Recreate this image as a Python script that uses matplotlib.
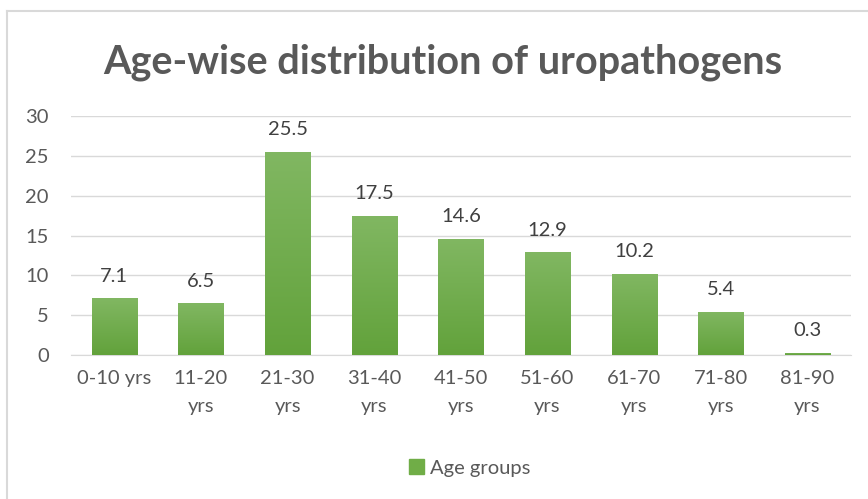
import numpy as np
import matplotlib.pyplot as plt
from matplotlib.colors import LinearSegmentedColormap
from matplotlib.patches import Patch

# данные
age_groups = ['0-10 yrs', '11-20\nyrs', '21-30\nyrs', '31-40\nyrs', '41-50\nyrs',
              '51-60\nyrs', '61-70\nyrs', '71-80\nyrs', '81-90\nyrs']
percent = [7.1, 6.5, 25.5, 17.5, 14.6, 12.9, 10.2, 5.4, 0.3]
y_ticks = [0, 5, 10, 15, 20, 25, 30]

plt.rcParams['font.family'] = ['Lato', 'DejaVu Sans']

fig = plt.figure(figsize=(8.68, 4.99), dpi=100)
ax = fig.add_axes([0.0818, 0.2886, 0.8982, 0.4789])

x = np.arange(len(age_groups))
bars = ax.bar(x, percent, width=0.52, color='#70AD47', zorder=2)

# градиент заливки столбцов
cmap = LinearSegmentedColormap.from_list('grn', ['#62a23b', '#81b762'])
grad = np.linspace(0, 1, 256).reshape(-1, 1)
for b in bars:
    x0, y0 = b.get_x(), b.get_y()
    w, h = b.get_width(), b.get_height()
    im = ax.imshow(grad, cmap=cmap, aspect='auto', origin='lower',
                   extent=[x0, x0 + w, y0, y0 + h], zorder=3)
    im.set_clip_path(b)
    ax.text(x0 + w / 2, h + 1.7, f'{h:.1f}', ha='center', va='bottom',
            fontsize=14.5, color='#404040')

ax.set_xlim(-0.5, len(age_groups) - 0.5)
ax.set_ylim(0, 30)
ax.set_yticks(y_ticks)
ax.set_xticks(x)
ax.set_xticklabels(age_groups, linespacing=1.75)
ax.tick_params(axis='both', length=0, labelsize=14.5, labelcolor='#595959')
ax.tick_params(axis='y', pad=16)
ax.tick_params(axis='x', pad=11)
ax.grid(axis='y', color='#d9d9d9', lw=1, zorder=0)
for s in ['top', 'right', 'left']:
    ax.spines[s].set_visible(False)
ax.spines['bottom'].set_color('#d9d9d9')

fig.text(0.51, 1 - 62 / 499, 'Age-wise distribution of uropathogens',
         ha='center', va='center', fontsize=28.5, fontweight='bold', color='#595959')

fig.legend(handles=[Patch(color='#70AD47', label='Age groups')], loc='center',
           bbox_to_anchor=(470 / 868, 1 - 468 / 499), frameon=False, fontsize=14.5,
           labelcolor='#595959', handlelength=0.75, handleheight=0.75, handletextpad=0.3)

# рамка диаграммы (видны только левая и верхняя стороны)
fig.add_artist(plt.Line2D([6.5 / 868, 6.5 / 868], [0, 1 - 11 / 499], color='#d9d9d9', lw=1.5))
fig.add_artist(plt.Line2D([6.5 / 868, 1], [1 - 11 / 499, 1 - 11 / 499], color='#d9d9d9', lw=1.5))

fig.savefig('out.png', dpi=100)
